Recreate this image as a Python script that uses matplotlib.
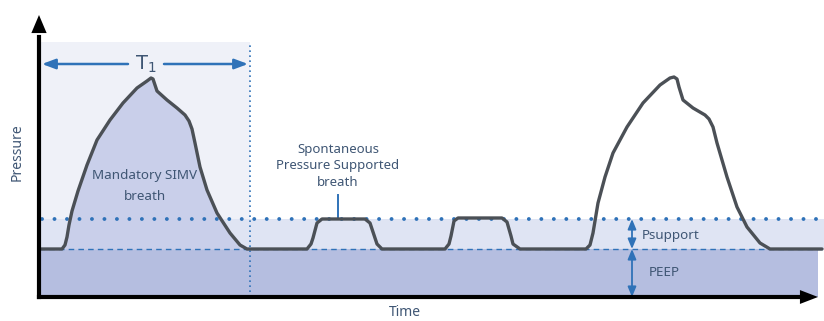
import matplotlib
matplotlib.use("Agg")
import matplotlib.pyplot as plt

# pressure waveform (time, pressure)
peep = 4.8
psupport_level = 7.8
t1_end = 2.11

wave_t = [0.01, 0.23, 0.26, 0.28, 0.30, 0.33, 0.39, 0.48, 0.58, 0.71, 0.84, 0.98, 1.08, 1.12, 1.14, 1.16, 1.18,
          1.28, 1.38, 1.46, 1.50, 1.53, 1.56, 1.61, 1.68, 1.78, 1.91, 2.01, 2.08,
          2.68, 2.72, 2.74, 2.78, 2.83, 3.26, 3.31, 3.36, 3.38, 3.43,
          4.06, 4.10, 4.12, 4.15, 4.19, 4.63, 4.68, 4.72, 4.74, 4.81,
          5.47, 5.51, 5.54, 5.59, 5.66, 5.74, 5.88, 6.04, 6.21, 6.31, 6.35, 6.38, 6.40, 6.44,
          6.54, 6.66, 6.70, 6.74, 6.78, 6.88, 6.98, 7.08, 7.21, 7.31, 7.83]
wave_p = [4.8, 4.8, 5.2, 6.0, 7.2, 8.6, 10.6, 13.2, 15.7, 17.7, 19.4, 20.9, 21.6, 21.9, 21.8, 21.2, 20.6,
          19.7, 18.9, 18.2, 17.6, 16.8, 15.4, 13.0, 10.7, 8.4, 6.4, 5.2, 4.8,
          4.8, 5.3, 5.9, 7.4, 7.8, 7.8, 7.4, 5.9, 5.3, 4.8,
          4.8, 5.3, 6.1, 7.6, 7.9, 7.9, 7.5, 6.1, 5.3, 4.8,
          4.8, 5.2, 6.4, 9.4, 12.0, 14.4, 17.0, 19.4, 21.2, 21.9, 22.0, 21.8, 21.0, 19.7,
          18.9, 18.2, 17.8, 17.0, 15.4, 12.0, 9.0, 7.0, 5.4, 4.8, 4.8]
n_first = 29  # points belonging to the mandatory breath inside T1

text_c = "#3f5674"
blue = "#2f72b8"
curve_c = "#4b5056"

fig = plt.figure(figsize=(8.24, 3.21), dpi=100)
ax = fig.add_axes([0, 0, 1, 1])
ax.set_xlim(-0.39, 7.85)
ax.set_ylim(-2.4, 29.7)
ax.axis("off")

# background bands
ax.fill_between([0, t1_end], 0, 25.5, color="#eff1f8", lw=0, zorder=0)
ax.fill_between([0, 7.85], peep, psupport_level, color="#dfe4f3", lw=0, zorder=1)
ax.fill_between([0, 7.79], 0, peep, color="#b5bee0", lw=0, zorder=1)
ax.fill_between(wave_t[:n_first], peep, wave_p[:n_first], color="#c9cfea", lw=0, zorder=2)

ax.plot([0.03, 7.85], [psupport_level, psupport_level], color=blue, lw=2.8,
        ls=(0, (0.01, 3.2)), dash_capstyle="round", zorder=3)
ax.plot([0, 7.85], [peep, peep], color=blue, lw=1, ls=(0, (4, 3)), zorder=3)
ax.plot([t1_end, t1_end], [0, 25.5], color=blue, lw=1.2, ls=(0, (1, 2)), zorder=3)

ax.plot(wave_t, wave_p, color=curve_c, lw=2.4, solid_joinstyle="round",
        solid_capstyle="round", zorder=4)

# axes with arrows
ax.plot([0, 0], [0, 26], color="black", lw=3, zorder=5)
ax.plot([0, 7.6], [0, 0], color="black", lw=3, zorder=5)
ax.annotate("", xy=(0, 28.2), xytext=(0, 25.5),
            arrowprops=dict(arrowstyle="-|>,head_length=1.3,head_width=0.55",
                            color="black", lw=0, shrinkA=0, shrinkB=0), zorder=6)
ax.annotate("", xy=(7.79, 0), xytext=(7.5, 0),
            arrowprops=dict(arrowstyle="-|>,head_length=1.3,head_width=0.5",
                            color="black", lw=0, shrinkA=0, shrinkB=0), zorder=6)

# T1 span
arr = dict(arrowstyle="-|>,head_length=0.8,head_width=0.3", color=blue, lw=1.8,
           shrinkA=0, shrinkB=0)
ax.annotate("", xy=(0.03, 23.3), xytext=(0.89, 23.3), arrowprops=arr)
ax.annotate("", xy=(2.09, 23.3), xytext=(1.25, 23.3), arrowprops=arr)
ax.text(1.07, 23.3, "T$_1$", color=text_c, fontsize=14, ha="center", va="center")

# Psupport / PEEP double arrows
darr = dict(arrowstyle="<|-|>,head_length=0.6,head_width=0.25", color=blue, lw=1.3,
            shrinkA=0, shrinkB=0)
ax.annotate("", xy=(5.93, psupport_level), xytext=(5.93, peep), arrowprops=darr)
ax.annotate("", xy=(5.93, peep), xytext=(5.93, 0), arrowprops=darr)

ax.plot([2.99, 2.99], [psupport_level, 10.2], color=blue, lw=1.4, zorder=3)

font = "Noto Sans"
ax.text(1.06, 11.1, "Mandatory SIMV\nbreath", color=text_c, fontsize=9.7, family=font,
        ha="center", va="center", linespacing=1.75)
ax.text(2.99, 13.1, "Spontaneous\nPressure Supported\nbreath", color=text_c, fontsize=9.5,
        family=font, ha="center", va="center", linespacing=1.35)
ax.text(6.03, 6.1, "Psupport", color=text_c, fontsize=9.7, family=font, ha="left", va="center")
ax.text(6.10, 2.5, "PEEP", color=text_c, fontsize=9.7, family=font, ha="left", va="center")
ax.text(-0.22, 14.5, "Pressure", color=text_c, fontsize=10, family=font, rotation=90,
        ha="center", va="center")
ax.text(3.66, -1.6, "Time", color=text_c, fontsize=10, family=font, ha="center", va="center")

fig.savefig("out.png", dpi=100)
